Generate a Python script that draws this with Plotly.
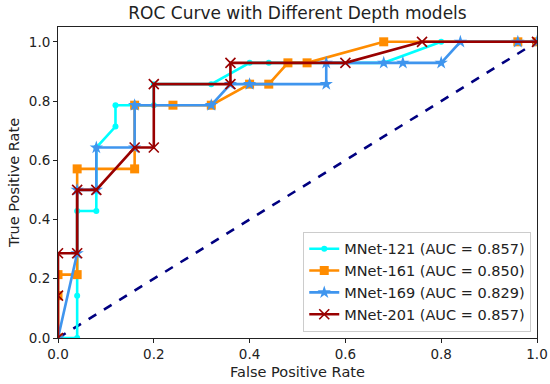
import plotly.graph_objects as go

# ROC data
fpr_121 = [0.0, 0.04, 0.04, 0.04, 0.08, 0.08, 0.12, 0.12, 0.20, 0.20, 0.32, 0.40, 0.44, 0.68, 0.80, 1.0]
tpr_121 = [0.0, 0.0, 0.143, 0.429, 0.429, 0.643, 0.714, 0.786, 0.786, 0.857, 0.857, 0.929, 0.929, 0.929, 1.0, 1.0]

fpr_161 = [0.0, 0.0, 0.0, 0.04, 0.04, 0.16, 0.16, 0.24, 0.32, 0.40, 0.44, 0.48, 0.52, 0.68, 0.96, 1.0]
tpr_161 = [0.0, 0.143, 0.214, 0.214, 0.571, 0.571, 0.786, 0.786, 0.786, 0.857, 0.857, 0.929, 0.929, 1.0, 1.0, 1.0]

fpr_169 = [0.0, 0.04, 0.04, 0.08, 0.08, 0.16, 0.16, 0.32, 0.36, 0.40, 0.56, 0.56, 0.68, 0.72, 0.80, 0.84, 0.96, 1.0]
tpr_169 = [0.0, 0.286, 0.5, 0.5, 0.643, 0.643, 0.786, 0.786, 0.857, 0.857, 0.857, 0.929, 0.929, 0.929, 0.929, 1.0, 1.0, 1.0]

fpr_201 = [0.0, 0.0, 0.0, 0.04, 0.04, 0.08, 0.16, 0.20, 0.20, 0.36, 0.36, 0.60, 0.76, 1.0]
tpr_201 = [0.0, 0.143, 0.286, 0.286, 0.5, 0.5, 0.643, 0.643, 0.857, 0.857, 0.929, 0.929, 1.0, 1.0]

names = ["MNet-121 (AUC = 0.857)", "MNet-161 (AUC = 0.850)",
         "MNet-169 (AUC = 0.829)", "MNet-201 (AUC = 0.857)"]
chance = [0.0, 1.0]
x_ticks = [0.0, 0.2, 0.4, 0.6, 0.8, 1.0]

font = "DejaVu Sans"
fig = go.Figure()

fig.add_trace(go.Scatter(x=chance, y=chance, mode="lines",
                         line=dict(color="navy", width=2.6, dash="dash"),
                         showlegend=False, hoverinfo="skip"))

fig.add_trace(go.Scatter(x=fpr_121, y=tpr_121, mode="lines+markers", name=names[0],
                         line=dict(color="#00FFFF", width=2.6),
                         marker=dict(symbol="circle", size=6, color="#00FFFF")))
fig.add_trace(go.Scatter(x=fpr_161, y=tpr_161, mode="lines+markers", name=names[1],
                         line=dict(color="#FF8C00", width=2.6),
                         marker=dict(symbol="square", size=9, color="#FF8C00")))
fig.add_trace(go.Scatter(x=fpr_169, y=tpr_169, mode="lines+markers", name=names[2],
                         line=dict(color="#3F95EE", width=2.6),
                         marker=dict(symbol="star", size=10, color="#3F95EE")))
fig.add_trace(go.Scatter(x=fpr_201, y=tpr_201, mode="lines+markers", name=names[3],
                         line=dict(color="#990000", width=2.6),
                         marker=dict(symbol="x-thin", size=10, color="#990000",
                                     line=dict(color="#990000", width=1.6))))

axis_common = dict(showline=True, linecolor="#222", linewidth=1, mirror=True,
                   ticks="outside", ticklen=4, tickcolor="#222", showgrid=False,
                   zeroline=False, tickfont=dict(family=font, size=13.5, color="#222"),
                   tickformat=".1f", automargin=False)

fig.update_layout(
    width=550, height=384,
    margin=dict(l=58, r=13, t=27, b=46),
    paper_bgcolor="white", plot_bgcolor="white",
    title=dict(text="ROC Curve with Different Depth models", x=0.5, xref="paper",
               xanchor="center", y=0.966, yanchor="middle",
               font=dict(family=font, size=17, color="#222")),
    xaxis=dict(range=[0, 1], tickvals=x_ticks,
               title=dict(text="False Positive Rate", font=dict(family=font, size=14.5, color="#222"),
                          standoff=5),
               **axis_common),
    yaxis=dict(range=[0, 1.05], tickvals=x_ticks,
               title=dict(text="True Positive Rate", font=dict(family=font, size=14.5, color="#222"),
                          standoff=5),
               **axis_common),
    legend=dict(x=0.988, y=0.02, xanchor="right", yanchor="bottom",
                bgcolor="rgba(255,255,255,0.85)", bordercolor="#cccccc", borderwidth=1,
                font=dict(family=font, size=14.5, color="#222"),
                tracegroupgap=0, itemwidth=30),
)

fig.write_html("out.html", config={"displayModeBar": False},
               post_script="document.body.style.margin='0px';document.body.style.padding='0px';")
